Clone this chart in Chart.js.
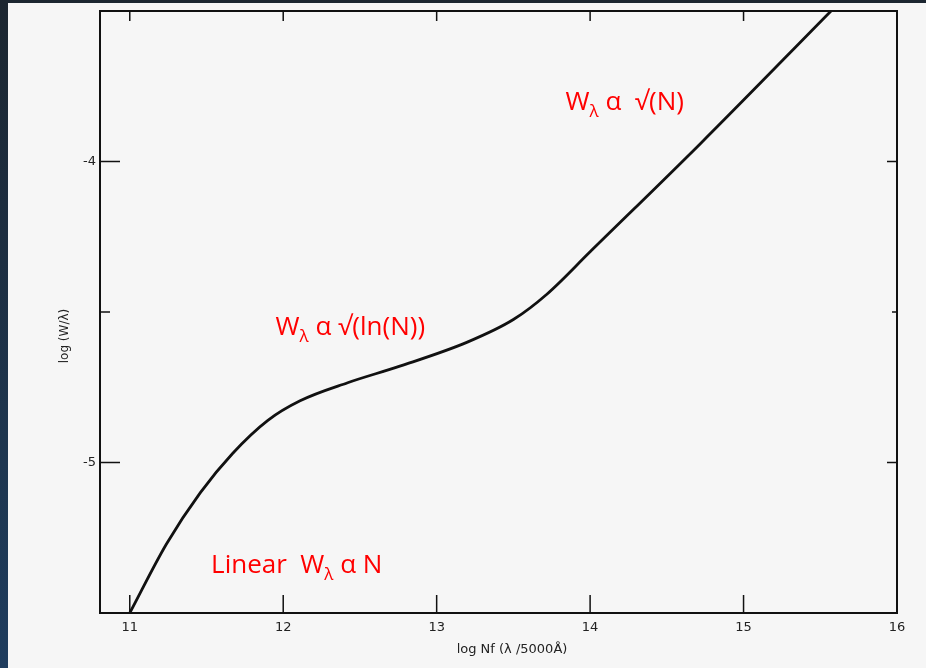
<!DOCTYPE html>
<html>
<head>
<meta charset="utf-8">
<script src="https://cdn.jsdelivr.net/npm/chart.js@4.4.1/dist/chart.umd.min.js"></script>
<style>
html, body { margin: 0; padding: 0; width: 926px; height: 668px; overflow: hidden; }
body { background: linear-gradient(#1c2630, #1f3d5e); }
#wrap { position: absolute; left: 8px; top: 3px; width: 918px; height: 665px; background: #f6f6f6; }
</style>
</head>
<body>
<div id="wrap"><canvas id="cogChart"></canvas></div>
<script>
// curve of growth
const logNf = [11.0, 11.24, 11.46, 11.67, 11.90, 12.11, 12.42, 12.76, 13.20, 13.50, 13.72, 14.0, 14.72, 15.57];
const logWl = [-5.50, -5.27, -5.10, -4.97, -4.86, -4.795, -4.735, -4.68, -4.60, -4.525, -4.44, -4.30, -3.94, -3.50];

const xTicks = [11, 12, 13, 14, 15, 16];
const yTicks = [-5, -4.5, -4];
const yTickLabels = ['-5', '', '-4'];

// regime labels: [main text, subscript, rest], anchored at data coords
const noteText = [['W', 'λ', ' α  √(N)'], ['W', 'λ', ' α √(ln(N))'], ['Linear  W', 'λ', ' α N']];
const noteX = [13.84, 11.95, 11.53];
const noteY = [-3.83, -4.578, -5.368];

const framePlugin = {
    id: 'frame',
    afterDatasetsDraw(chart) {
        const { ctx, chartArea: a, scales } = chart;
        const xs = scales.x, ys = scales.y;
        ctx.save();
        ctx.strokeStyle = '#111';
        ctx.lineWidth = 2;
        ctx.strokeRect(a.left, a.top, a.right - a.left, a.bottom - a.top);

        // inward ticks
        ctx.lineWidth = 1.5;
        ctx.beginPath();
        xTicks.forEach(v => {
            const px = xs.getPixelForValue(v);
            if (px >= a.right - 2) return;
            ctx.moveTo(px, a.bottom); ctx.lineTo(px, a.bottom - 18);
            ctx.moveTo(px, a.top); ctx.lineTo(px, a.top + 10);
        });
        yTicks.forEach(v => {
            const py = ys.getPixelForValue(v);
            const major = Number.isInteger(v);
            ctx.moveTo(a.left, py); ctx.lineTo(a.left + (major ? 20 : 10), py);
            ctx.moveTo(a.right, py); ctx.lineTo(a.right - (major ? 10 : 5), py);
        });
        ctx.stroke();

        // axis titles
        ctx.fillStyle = '#222';
        ctx.font = '13px "DejaVu Sans"';
        ctx.textAlign = 'center';
        ctx.textBaseline = 'middle';
        ctx.fillText('log Nf (λ /5000Å)', 504, 647);
        ctx.font = '12px "DejaVu Sans"';
        ctx.translate(57, 333);
        ctx.rotate(-Math.PI / 2);
        ctx.fillText('log (W/λ)', 0, 0);
        ctx.restore();

        // red annotations
        ctx.save();
        ctx.fillStyle = '#ff0000';
        ctx.textAlign = 'left';
        ctx.textBaseline = 'alphabetic';
        noteText.forEach((parts, i) => {
            let px = xs.getPixelForValue(noteX[i]);
            const py = ys.getPixelForValue(noteY[i]);
            ctx.font = '26px "Open Sans"';
            ctx.fillText(parts[0], px, py);
            px += ctx.measureText(parts[0]).width;
            ctx.font = '17px "Open Sans"';
            ctx.fillText(parts[1], px, py + 7);
            px += ctx.measureText(parts[1]).width;
            ctx.font = '26px "Open Sans"';
            ctx.fillText(parts[2], px, py);
        });
        ctx.restore();
    }
};

new Chart(document.getElementById('cogChart'), {
    type: 'scatter',
    data: {
        datasets: [{
            data: logNf.map((x, i) => ({ x: x, y: logWl[i] })),
            showLine: true,
            borderColor: '#111',
            borderWidth: 2.8,
            pointRadius: 0,
            cubicInterpolationMode: 'monotone'
        }]
    },
    options: {
        responsive: true,
        maintainAspectRatio: false,
        animation: false,
        layout: { padding: { top: 8, right: 29, left: 0, bottom: 0 } },
        plugins: { legend: { display: false }, tooltip: { enabled: false } },
        scales: {
            x: {
                type: 'linear',
                min: 10.806,
                max: 16,
                afterBuildTicks: s => { s.ticks = xTicks.map(v => ({ value: v })); },
                afterFit: s => { s.height = 55; },
                grid: { display: false, drawTicks: false },
                border: { display: false },
                ticks: { color: '#222', font: { family: 'DejaVu Sans', size: 13 }, padding: 7, callback: v => String(v) }
            },
            y: {
                type: 'linear',
                min: -5.5,
                max: -3.5,
                afterBuildTicks: s => { s.ticks = yTicks.map(v => ({ value: v })); },
                afterFit: s => { s.width = 92; s.paddingTop = 0; s.paddingBottom = 0; },
                grid: { display: false, drawTicks: false },
                border: { display: false },
                ticks: { color: '#222', font: { family: 'DejaVu Sans', size: 13 }, padding: 4,
                    callback: (v, i) => yTickLabels[i] }
            }
        }
    },
    plugins: [framePlugin]
});
</script>
</body>
</html>
